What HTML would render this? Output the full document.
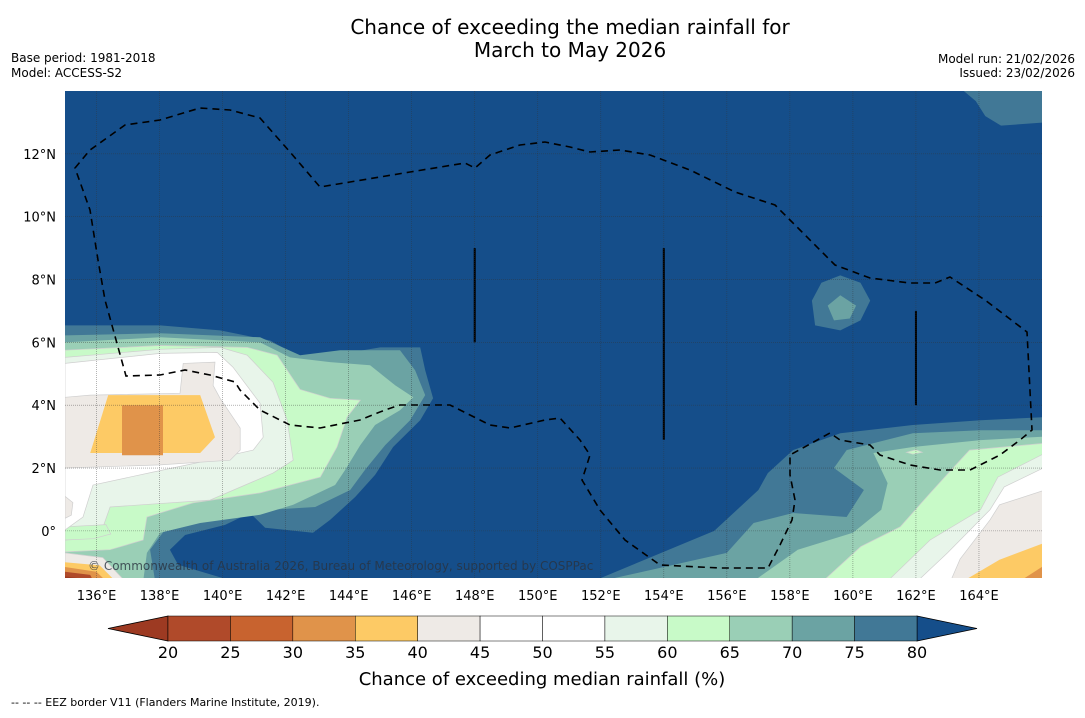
<!DOCTYPE html>
<html><head><meta charset="utf-8">
<style>
html,body{margin:0;padding:0;background:#fff;}
body{width:1085px;height:713px;overflow:hidden;font-family:"Liberation Sans","DejaVu Sans",sans-serif;}
svg text{font-family:"DejaVu Sans","Liberation Sans",sans-serif;}
</style></head>
<body>
<svg id="chart" width="1085" height="713" viewBox="0 0 1085 713" xmlns="http://www.w3.org/2000/svg">
<text x="570" y="34" font-size="20" text-anchor="middle">Chance of exceeding the median rainfall for</text>
<text x="570" y="57" font-size="20" text-anchor="middle">March to May 2026</text>
<text x="11" y="62" font-size="12">Base period: 1981-2018</text>
<text x="11" y="77" font-size="12">Model: ACCESS-S2</text>
<text x="1075" y="63" font-size="12" text-anchor="end">Model run: 21/02/2026</text>
<text x="1075" y="77" font-size="12" text-anchor="end">Issued: 23/02/2026</text>
<defs><clipPath id="mapclip"><rect x="65" y="91" width="977" height="487"/></clipPath></defs>
<g id="map" clip-path="url(#mapclip)"></g>
<g id="axes"></g>
<g id="cbar"></g>
<text x="542" y="685" font-size="18" text-anchor="middle">Chance of exceeding median rainfall (%)</text>
<text x="11" y="706" font-size="11">--  --  -- EEZ border V11 (Flanders Marine Institute, 2019).</text>
</svg>
<script>
const lonTicks=[136,138,140,142,144,146,148,150,152,154,156,158,160,162,164];
const latTicks=[0,2,4,6,8,10,12];
const levels=[20,25,30,35,40,45,50,55,60,65,70,75,80];
const levelColors=["#b04a2a","#c8632f","#e0934a","#fdca65","#eeeae6","#ffffff","#ffffff","#e8f5ea","#c8fac8","#9acfb6","#6ba3a3","#417896"];
const lowColor="#9d3a22", highColor="#154e8a";
// contour polygons [lon,lat], value = lower bound of band
const contours=[
 {v:75,pts:[[135,6.54],[138.02,6.54],[139.92,6.38],[141.51,6.06],[142.46,5.52],[144.05,5.68],[145,5.84],[146.27,5.84],[146.43,5.11],[146.68,4.22],[146.27,3.52],[145.41,2.67],[144.84,1.78],[144.21,1.08],[143.41,0.35],[142.87,-0.06],[141.35,0.1],[140.87,0.57],[140.08,0.19],[138.81,-0.13],[138.33,-0.6],[138.59,-1.08],[140.33,-1.6],[135,-1.6]]},
 {v:70,pts:[[135,6.22],[138.02,6.29],[141.19,6.16],[142.46,5.59],[143.73,5.75],[145.63,5.75],[146.11,5.11],[146.43,4.32],[145.95,3.52],[145.16,2.73],[144.52,1.94],[144.05,1.3],[142.94,0.76],[141.51,0.67],[140.56,0.83],[139.29,0.51],[138.17,0.03],[137.7,-0.6],[137.86,-1.6],[135,-1.6]]},
 {v:65,pts:[[135,6.0],[138.02,6.16],[141.19,6.0],[142.14,5.52],[143.41,5.37],[144.68,5.27],[145.48,4.63],[146.05,4.25],[145.63,3.84],[144.84,3.37],[144.37,2.73],[143.89,1.94],[143.57,1.46],[142.24,0.83],[141.19,0.51],[139.29,0.25],[138.02,-0.06],[137.6,-0.7],[137.48,-1.6],[135,-1.6]]},
 {v:60,pts:[[135,5.75],[138.02,5.9],[140.78,5.84],[141.73,5.59],[142.46,4.5],[143.41,4.22],[144.37,4.16],[143.95,3.62],[143.63,2.67],[143.1,1.71],[141.19,1.21],[139.06,0.89],[137.6,0.44],[137.48,-0.29],[136.43,-0.6],[135,-0.67]]},
 {v:55,pts:[[135,5.52],[138.02,5.78],[139.92,5.84],[140.78,5.59],[141.6,4.73],[142.05,3.52],[142.24,2.25],[141.6,1.84],[139.6,0.98],[136.43,0.76],[136.21,0.13],[135.06,-0.29],[135,-0.29]]},
 {v:60,pts:[[135,0.13],[136.3,0.2],[136.45,-0.1],[135.9,-0.25],[135,-0.29]]},
 {v:45,pts:[[135,5.33],[138.02,5.65],[139.83,5.68],[140.33,5.21],[141.19,4.06],[141.29,2.98],[140.97,2.57],[139.29,2.19],[137.79,1.87],[135.89,1.46],[135.57,0.44],[135,0.03]]},
 {v:40,pts:[[135,4.25],[135.8,4.32],[138.65,4.38],[138.75,5.33],[139.76,5.37],[139.7,4.63],[139.92,4.22],[140.56,3.27],[140.56,2.57],[140.24,2.25],[138.02,2.1],[135,2.0]]},
 {v:40,pts:[[135,1.1],[135.25,0.9],[135.2,0.5],[135,0.4]]},
 {v:35,pts:[[136.37,4.32],[139.29,4.32],[139.76,2.98],[139.29,2.48],[135.8,2.48]]},
 {v:30,pts:[[136.81,4.0],[138.11,4.0],[138.11,2.41],[136.81,2.41]]},
 {v:40,pts:[[135,-0.7],[136.2,-0.85],[136.9,-1.6],[135,-1.6]]},
 {v:35,pts:[[135,-1.0],[136.1,-1.1],[136.6,-1.6],[135,-1.6]]},
 {v:30,pts:[[135,-1.15],[136.0,-1.3],[136.3,-1.6],[135,-1.6]]},
 {v:20,pts:[[135,-1.3],[135.8,-1.4],[135.9,-1.6],[135,-1.6]]},
 {v:15,pts:[[135,-1.45],[135.4,-1.5],[135.5,-1.6],[135,-1.6]]},
 {v:75,pts:[[151.5,-1.6],[152.0,-1.5],[155.6,0.0],[157.0,1.3],[157.3,1.84],[158.1,2.57],[159.6,3.11],[161.9,3.37],[164.05,3.52],[166.1,3.62],[166.1,-1.6]]},
 {v:70,pts:[[152,-1.6],[156.0,-0.7],[156.85,0.25],[158.1,0.57],[159.8,0.44],[160.35,1.3],[159.4,2.0],[159.8,2.57],[160.8,2.83],[161.9,3.11],[164.05,3.2],[166.1,3.2],[166.1,-1.6]]},
 {v:65,pts:[[156.85,-1.6],[158.25,-0.6],[160.0,-0.06],[160.9,0.67],[161.1,1.52],[160.65,2.48],[161.9,2.67],[164.05,2.89],[166.1,3.0],[166.1,-1.6]]},
 {v:60,pts:[[159.05,-1.6],[160.25,-0.5],[161.5,0.13],[162.45,1.2],[163.2,2.03],[163.7,2.57],[166.1,2.79],[166.1,-1.6]]},
 {v:55,pts:[[161.1,-1.6],[162.45,-0.29],[164.05,0.67],[164.6,1.71],[166.1,2.48],[166.1,-1.6]]},
 {v:45,pts:[[162.05,-1.6],[163.0,-0.7],[164.35,0.67],[164.8,1.4],[166.1,2.03],[166.1,-1.6]]},
 {v:40,pts:[[166.1,1.3],[164.65,0.83],[164.35,0.35],[163.4,-0.9],[163.1,-1.6],[166.1,-1.6]]},
 {v:35,pts:[[166.1,-0.37],[164.65,-0.92],[163.5,-1.6],[166.1,-1.6]]},
 {v:30,pts:[[166.1,-1.08],[165.3,-1.6],[166.1,-1.6]]},
 {v:60,pts:[[161.7,2.5],[162.0,2.58],[162.2,2.5],[161.9,2.44]]},
 {v:75,pts:[[163.4,14.1],[163.9,13.68],[164.2,13.2],[164.7,12.9],[166.1,13.0],[166.1,14.1]]},
 {v:75,pts:[[158.7,7.33],[159.0,7.9],[159.6,8.13],[160.24,7.9],[160.55,7.33],[160.24,6.7],[159.6,6.38],[158.8,6.54]]},
 {v:70,pts:[[159.2,7.17],[159.6,7.5],[160.1,7.17],[159.9,6.76],[159.4,6.7]]}
];
const ridges=[[148,6,9],[154,2.9,9],[162,4,7]];
const eez="M75,168 L90,150 L125,125 L160,120 L200,108 L230,110 L260,118 L290,152 L320,187 L350,182 L410,172 L465,163 L475,168 L490,155 L520,145 L545,142 L570,147 L590,152 L620,150 L650,155 L690,170 L735,192 L775,205 L800,230 L835,265 L870,278 L910,283 L935,283 L950,277 L985,300 L1027,332 L1032,430 L1020,440 L1000,455 L970,470 L940,470 L910,465 L880,455 L870,445 L840,440 L830,433 L790,455 L790,475 L795,500 L792,520 L780,545 L768,568 L720,568 L660,565 L625,540 L600,510 L582,480 L590,455 L580,440 L560,418 L545,420 L510,428 L490,425 L470,415 L450,405 L430,405 L400,405 L385,410 L360,420 L320,428 L290,425 L260,410 L240,390 L235,382 L210,375 L185,370 L160,375 L126,376 L105,300 L98,260 L90,210 Z";

const NS="http://www.w3.org/2000/svg";
const X0=65,X1=1042,Y0=91,Y1=578,LON0=135,LON1=166,LAT0=-1.5,LAT1=14;
function px(lon){return X0+(lon-LON0)/(LON1-LON0)*(X1-X0);}
function py(lat){return Y1-(lat-LAT0)/(LAT1-LAT0)*(Y1-Y0);}
function colorFor(v){if(v<levels[0])return lowColor;if(v>=levels[levels.length-1])return highColor;for(let i=0;i<levels.length-1;i++){if(v>=levels[i]&&v<levels[i+1])return levelColors[i];}return highColor;}
function mk(tag,attrs,parent){const e=document.createElementNS(NS,tag);for(const k in attrs)e.setAttribute(k,attrs[k]);parent.appendChild(e);return e;}
const map=document.getElementById('map');
const bg=mk('rect',{x:X0,y:Y0,width:X1-X0,height:Y1-Y0,fill:highColor},map);


contours.forEach((c,i)=>{
  const light=c.v>=40&&c.v<65;
  const p=mk('polygon',{points:c.pts.map(q=>px(q[0]).toFixed(1)+','+py(q[1]).toFixed(1)).join(' '),fill:colorFor(c.v),stroke:light?'#cfcfcf':'none','stroke-width':0.7},map);
  
  
});
ridges.forEach(r=>{
  const l=mk('line',{x1:px(r[0]),x2:px(r[0]),y1:py(r[2]),y2:py(r[1]),stroke:'#000','stroke-width':2},map);
  
  
});
lonTicks.forEach(t=>{
  const l=mk('line',{x1:px(t),x2:px(t),y1:Y0,y2:Y1,stroke:'#333','stroke-width':0.6,'stroke-dasharray':'1,1','opacity':0.6},map);
  
  
});
latTicks.forEach(t=>{
  const l=mk('line',{x1:X0,x2:X1,y1:py(t),y2:py(t),stroke:'#333','stroke-width':0.6,'stroke-dasharray':'1,1','opacity':0.6},map);
  
  
});
const ez=mk('path',{d:eez,fill:'none',stroke:'#000','stroke-width':1.6,'stroke-dasharray':'7,5'},map);


const wm=mk('text',{x:88,y:570,'font-size':12,fill:'#2a3340','opacity':0.8},map);
wm.textContent='© Commonwealth of Australia 2026, Bureau of Meteorology, supported by COSPPac';



const axes=document.getElementById('axes');
lonTicks.forEach(t=>{
  const tx=mk('text',{x:px(t),y:600,'font-size':13,'text-anchor':'middle'},axes);
  tx.textContent=t+'°E';
  
  
});
latTicks.forEach(t=>{
  const tx=mk('text',{x:56,y:py(t)+5,'font-size':13,'text-anchor':'end'},axes);
  tx.textContent=t===0?'0°':t+'°N';
  
  
});

const cb=document.getElementById('cbar');
const CX0=168,CX1=917,CY=616,CH=25,TW=60;
const segW=(CX1-CX0)/(levels.length-1);
const lt=mk('polygon',{points:`${CX0},${CY} ${CX0-TW},${CY+CH/2} ${CX0},${CY+CH}`,fill:lowColor,stroke:'#000','stroke-width':0.8},cb);


const rt=mk('polygon',{points:`${CX1},${CY} ${CX1+TW},${CY+CH/2} ${CX1},${CY+CH}`,fill:highColor,stroke:'#000','stroke-width':0.8},cb);


levelColors.forEach((c,i)=>{
  const r=mk('rect',{x:CX0+i*segW,y:CY,width:segW,height:CH,fill:c,stroke:'#000','stroke-width':0.5},cb);
  
  
});
levels.forEach((v,i)=>{
  const tx=mk('text',{x:CX0+i*segW,y:658,'font-size':16,'text-anchor':'middle'},cb);
  tx.textContent=v;
  
  
});
</script>
</body></html>
